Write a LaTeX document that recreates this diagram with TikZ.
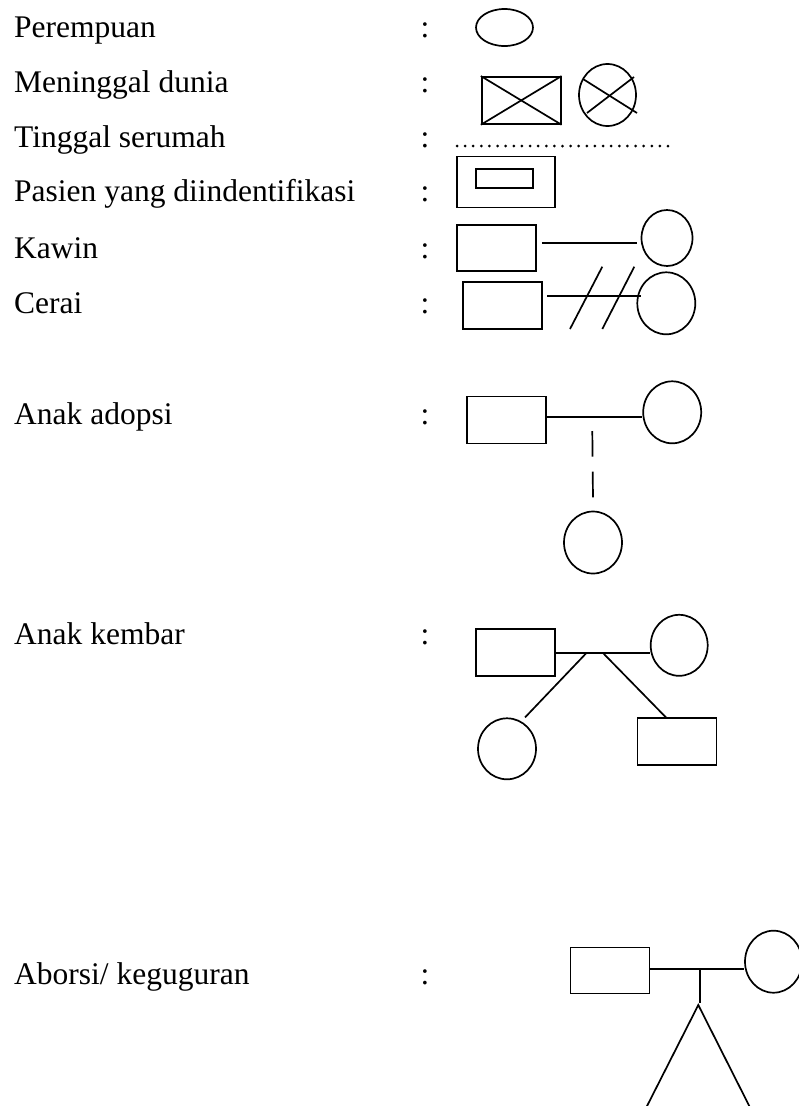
\documentclass[tikz,border=0pt]{standalone}
\usepackage{fontspec}
\setmainfont{Liberation Serif}
\usetikzlibrary{shapes.geometric}
\begin{document}
\begin{tikzpicture}[x=1pt,y=-1pt,
  lbl/.style={anchor=base west,inner sep=0,font=\fontsize{31.5}{37}\selectfont},
  colon/.style={anchor=base,inner sep=0,font=\fontsize{31.5}{37}\selectfont},
  sym/.style={line width=1.7pt},
  mbox/.style={draw,sym,rectangle,inner sep=0},
  fem/.style={draw,sym,ellipse,inner sep=0},
  tie/.style={sym}]
\useasboundingbox (0,0) rectangle (799,1106);
\fill[white] (0,0) rectangle (799,1106);
% labels
\node[lbl] (t1) at (14,37.3) {Perempuan};
\node[lbl] (t2) at (14,92.7) {Meninggal dunia};
\node[lbl] (t3) at (14,147.3) {Tinggal serumah};
\node[lbl] (t4) at (14,201.7) {Pasien yang diindentifikasi};
\node[lbl] (t5) at (14,258.3) {Kawin};
\node[lbl] (t6) at (14,313.3) {Cerai};
\node[lbl] (t7) at (14,424) {Anak adopsi};
\node[lbl] (t8) at (14,644) {Anak kembar};
\node[lbl] (t9) at (14,984) {Aborsi/ keguguran};
\foreach \y/\n in {37.3/1,92.7/2,147.3/3,201.7/4,258.3/5,313.3/6,424/7,644/8,984/9}
  \node[colon] (c\n) at (425,\y) {:};
% Perempuan
\node[fem,minimum width=57,minimum height=37] (per) at (504.5,27.5) {};
% Meninggal dunia
\node[mbox,minimum width=79,minimum height=47] (dbox) at (521.2,100.4) {};
\draw[sym] (dbox.north west) -- (dbox.south east);
\draw[sym] (dbox.south west) -- (dbox.north east);
\node[fem,minimum width=57,minimum height=62] (dcirc) at (607.5,95) {};
\draw[sym] ([shift={(-24.5,-16)}]dcirc.center) -- ([shift={(29.5,18)}]dcirc.center);
\draw[sym] ([shift={(-20.5,18)}]dcirc.center) -- ([shift={(26.5,-18)}]dcirc.center);
% Tinggal serumah
\coordinate (ds) at (457,146);
\coordinate (de) at (668,146);
\draw[line width=3pt,line cap=round,dash pattern=on 0pt off 8.115pt] (ds) -- (de);
% Pasien
\node[mbox,minimum width=98,minimum height=51] (pout) at (505.7,182) {};
\node[mbox,minimum width=57,minimum height=19] (pin) at (504.5,178.5) {};
% Kawin
\node[mbox,minimum width=79,minimum height=46] (kbox) at (496.3,248) {};
\node[fem,minimum width=51,minimum height=56] (kcirc) at (667,238) {};
\draw[tie] ([shift={(5.3,-5.3)}]kbox.east) -- ([shift={(-4,4.7)}]kcirc.west);
% Cerai
\node[mbox,minimum width=79,minimum height=47] (cbox) at (502.2,305.2) {};
\node[fem,minimum width=58,minimum height=62] (ccirc) at (666.3,303.3) {};
\draw[tie] ([shift={(4.5,-9.2)}]cbox.east) -- ([shift={(4.3,-7.3)}]ccirc.west);
\coordinate (s1t) at (602.3,266.7); \coordinate (s1b) at (570,329);
\coordinate (s2t) at (634.3,266.7); \coordinate (s2b) at (602.3,329);
\draw[sym] (s1t) -- (s1b);
\draw[sym] (s2t) -- (s2b);
% Anak adopsi
\node[mbox,minimum width=79,minimum height=47] (abox) at (506.3,420) {};
\node[fem,minimum width=58,minimum height=62] (acirc) at (672.2,412.3) {};
\draw[tie] ([yshift=3.3]abox.east) -- ([yshift=-4.4]acirc.west);
\node[fem,minimum width=58,minimum height=62] (achild) at (593,542.5) {};
\coordinate (adtop) at (592.3,431);
\draw[sym,dash pattern=on 25.7pt off 15pt] (adtop) -- ([yshift=11]achild.north);
% Anak kembar
\node[mbox,minimum width=79,minimum height=47] (kbbox) at (515.3,652.5) {};
\node[fem,minimum width=57,minimum height=61] (kbcirc) at (679.2,645.3) {};
\draw[tie] ([yshift=-0.2]kbbox.east) -- ([yshift=-7.4]kbcirc.west);
\node[fem,minimum width=58,minimum height=61] (twin1) at (507,748.8) {};
\node[mbox,minimum width=79,minimum height=47] (twin2) at (677,741.8) {};
\coordinate (kl) at (586.7,652.7);
\coordinate (kr) at (602.7,652.7);
\draw[sym] (kl) -- ([shift={(18,0)}]twin1.north);
\draw[sym] (kr) -- ([xshift=-11]twin2.north);
% Aborsi
\node[mbox,minimum width=79,minimum height=46] (abbox) at (610,970.5) {};
\node[fem,minimum width=57,minimum height=62] (abcirc) at (773.5,961.7) {};
\draw[tie] ([yshift=1.5]abbox.east) -- ([yshift=-7.3]abcirc.west);
\coordinate (abmid) at (700,969);
\coordinate (abstub) at (700,1003.3);
\draw[sym] (abmid) -- (abstub);
\coordinate (apex) at (698.3,1005);
\coordinate (legl) at (645,1110);
\coordinate (legr) at (751.3,1110);
\draw[sym] (legl) -- (apex) -- (legr);
\end{tikzpicture}
\end{document}
